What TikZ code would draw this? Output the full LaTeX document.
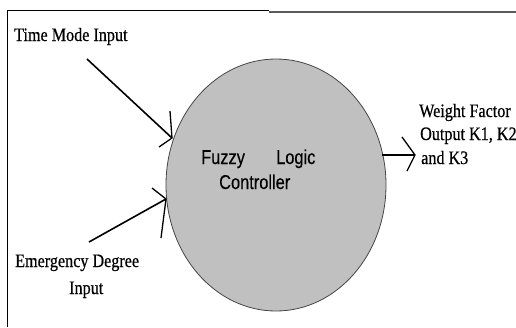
\documentclass[tikz,border=0pt]{standalone}
\usepackage{fontspec}
\setmainfont[FakeStretch=0.85,FakeBold=0.6]{Liberation Serif}
\newfontfamily\narrowsans[FakeStretch=0.82,FakeBold=0.3]{Liberation Sans}
\usetikzlibrary{shapes.geometric}
\definecolor{flcgray}{RGB}{192,192,192}
\definecolor{edgegray}{RGB}{70,70,70}
\definecolor{rulegray}{RGB}{90,90,90}
\begin{document}
\begin{tikzpicture}[x=1pt,y=-1pt,
  lbl/.style={font=\fontsize{19}{21}\selectfont, inner sep=0pt, anchor=base west},
  inlbl/.style={font=\narrowsans\fontsize{20}{22}\selectfont, inner sep=0pt, anchor=base west},
  shaft/.style={line width=1.6pt},
  headline/.style={line width=1.3pt}]
\useasboundingbox (0,0) rectangle (516,327);
\fill[white] (0,0) rectangle (516,327);
% frame
\draw[line width=1pt] (7,327) -- (7,10) -- (269,10);
\draw[line width=1.5pt, rulegray] (269,12) -- (516,12);
% controller
\node (flc) [draw=edgegray, line width=0.8pt, fill=flcgray, ellipse, inner sep=0pt,
  minimum width=220pt, minimum height=252pt] at (276,185) {};
\node (fz) [inlbl] at (201,164) {Fuzzy};
\node (lg) [inlbl] at (276,164) {Logic};
\node (ct) [inlbl] at (219,189) {Controller};
% labels
\node (tmi) [lbl] at (14,41) {Time Mode Input};
\node (edg) [lbl] at (15,267) {Emergency Degree};
\node (edi) [lbl] at (69,294) {Input};
\node (wf) [lbl] at (419,117) {Weight Factor};
\node (ok) [lbl] at (420,140) {Output K1, K2};
\node (ak) [lbl] at (421,164) {and K3};
% time mode arrow
\coordinate (t0) at (87,59);
\coordinate (t1) at (172,138);
\coordinate (th1) at (170,111);
\coordinate (th2) at (159,147);
\draw[shaft] (t0) -- (t1);
\draw[headline] (th1) -- (t1) -- (th2);
% emergency arrow
\coordinate (e0) at (89,242);
\coordinate (e1) at (166,199);
\coordinate (eh1) at (152,188);
\coordinate (eh2) at (161,238);
\draw[shaft] (e0) -- (e1);
\draw[headline] (eh1) -- (e1) -- (eh2);
% output arrow
\coordinate (o0) at (382,155);
\coordinate (o1) at (415,155);
\coordinate (oh1) at (402,137);
\coordinate (oh2) at (407,171);
\draw[shaft] (o0) -- (o1);
\draw[headline] (oh1) -- (o1) -- (oh2);
\end{tikzpicture}
\end{document}
